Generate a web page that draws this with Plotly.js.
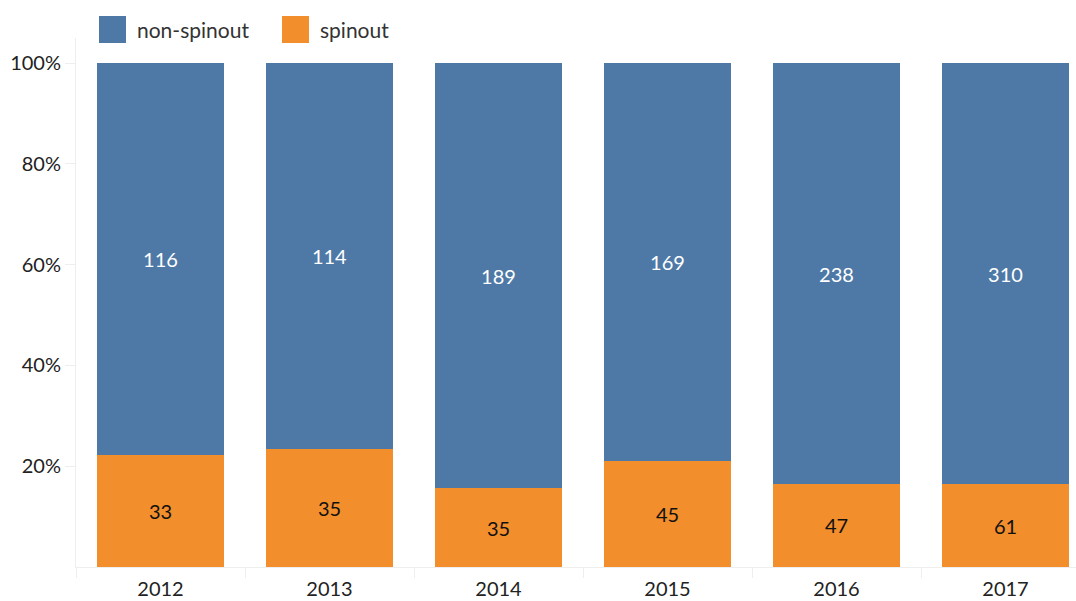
<!DOCTYPE html>
<html>
<head>
<meta charset="utf-8">
<script src="https://cdn.plot.ly/plotly-3.0.1.min.js"></script>
<style>html,body{margin:0;padding:0;background:#fff;}#chart{width:1076px;height:601px;}</style>
</head>
<body>
<div id="chart"></div>
<script>
const years = ['2012', '2013', '2014', '2015', '2016', '2017'];
const spinout = [33, 35, 35, 45, 47, 61];
const nonSpinout = [116, 114, 189, 169, 238, 310];
const seriesNames = ['non-spinout', 'spinout'];
const seriesColors = ['#4e79a7', '#f28e2b'];
const yTickVals = [20, 40, 60, 80, 100];

const W = 1076, H = 601;
const M = {l: 76, r: 0, t: 38, b: 34};
const FONT = 'Lato, "Source Sans Pro", "Noto Sans", sans-serif';
const plotW = W - M.l - M.r, plotH = H - M.t - M.b;
const px2x = p => (p - M.l) / plotW;
const px2y = p => (H - M.b - p) / plotH;

const traces = [
  {
    type: 'bar', name: seriesNames[1], x: years, y: spinout,
    text: spinout.map(String), texttemplate: '%{text}',
    textposition: 'inside', insidetextanchor: 'middle', constraintext: 'none',
    textfont: {family: FONT, size: 20, color: '#111'},
    marker: {color: seriesColors[1], line: {width: 0}}, showlegend: false, hoverinfo: 'x+y+name'
  },
  {
    type: 'bar', name: seriesNames[0], x: years, y: nonSpinout,
    text: nonSpinout.map(String), texttemplate: '%{text}',
    textposition: 'inside', insidetextanchor: 'middle', constraintext: 'none',
    textfont: {family: FONT, size: 20, color: '#ffffff'},
    marker: {color: seriesColors[0], line: {width: 0}}, showlegend: false, hoverinfo: 'x+y+name'
  }
];

// custom legend
const legendItems = [
  {name: seriesNames[0], color: seriesColors[0], sq: 99, tx: 135},
  {name: seriesNames[1], color: seriesColors[1], sq: 282, tx: 318}
];
const shapes = legendItems.map(it => ({
  type: 'rect', xref: 'paper', yref: 'paper',
  x0: px2x(it.sq), x1: px2x(it.sq + 27), y0: px2y(43), y1: px2y(16),
  fillcolor: it.color, line: {width: 0}
}));
const annotations = legendItems.map(it => ({
  xref: 'paper', yref: 'paper', x: px2x(it.tx), y: px2y(29),
  xanchor: 'left', yanchor: 'middle', showarrow: false, text: it.name,
  font: {family: FONT, size: 21, color: '#333'}
}));

const layout = {
  width: W, height: H,
  margin: M,
  paper_bgcolor: '#fff', plot_bgcolor: '#fff',
  barmode: 'stack', barnorm: 'percent', bargap: 0.25,
  font: {family: FONT, size: 20, color: '#222'},
  showlegend: false,
  xaxis: {
    type: 'category', range: [-0.5, 5.5 - 14 / 169],
    showline: true, linecolor: '#eeeeee', linewidth: 1,
    ticks: 'outside', tickson: 'boundaries', ticklen: 10, tickcolor: '#eeeeee',
    ticklabelstandoff: 4,
    showgrid: false, zeroline: false,
    tickfont: {family: FONT, size: 20, color: '#222'}
  },
  yaxis: {
    range: [0, 105], tickvals: yTickVals, ticktext: yTickVals.map(v => v + '%'),
    showline: true, linecolor: '#eeeeee', linewidth: 1,
    ticks: 'outside', ticklen: 10, tickcolor: '#eeeeee',
    showgrid: false, zeroline: false,
    tickfont: {family: FONT, size: 20, color: '#222'}
  },
  shapes: shapes,
  annotations: annotations
};

Plotly.newPlot('chart', traces, layout, {displayModeBar: false, staticPlot: true});
</script>
</body>
</html>
